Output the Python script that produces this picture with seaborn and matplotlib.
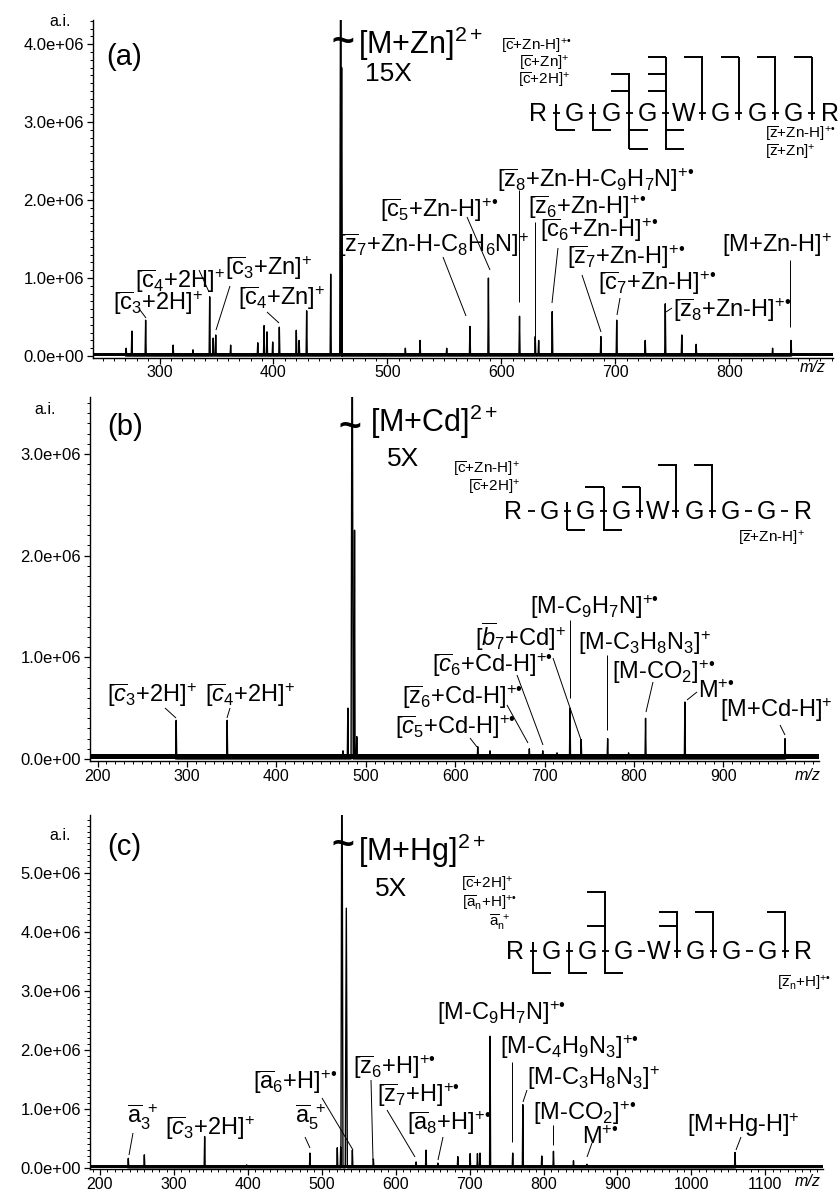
import numpy as np
import pandas as pd
import matplotlib
matplotlib.use('Agg')
import matplotlib.pyplot as plt
import seaborn as sns
from matplotlib.ticker import MultipleLocator, FuncFormatter

# ---------------- data (m/z, intensity in 1e6 a.i.) ----------------
zn_mz = [270.7, 275.7, 287.8, 311.9, 329.3, 344.0, 347.1, 349.3, 362.4, 386.2, 391.7, 394.3,
         399.3, 405.1, 420.0, 422.5, 429.1, 450.2, 459.0, 459.8, 515.7, 528.6, 552.0, 572.4,
         588.6, 615.9, 629.7, 632.7, 644.6, 687.3, 701.2, 726.2, 743.8, 758.3, 770.9, 838.0, 854.2]
zn_int = [0.10, 0.32, 0.46, 0.14, 0.08, 0.76, 0.23, 0.27, 0.14, 0.17, 0.39, 0.31,
          0.18, 0.37, 0.33, 0.20, 0.58, 1.05, 6.00, 3.70, 0.10, 0.20, 0.10, 0.38,
          1.00, 0.51, 0.25, 0.20, 0.57, 0.25, 0.46, 0.20, 0.67, 0.27, 0.15, 0.10, 0.20]

cd_mz = [288, 345, 474.6, 480, 484.8, 487.5, 490, 625.3, 639, 683, 698, 714,
         728.5, 741, 770.6, 794, 813, 857, 969]
cd_int = [0.38, 0.38, 0.08, 0.50, 5.00, 2.25, 0.22, 0.12, 0.08, 0.10, 0.08, 0.06,
          0.50, 0.19, 0.20, 0.06, 0.40, 0.56, 0.20]

hg_mz = [238.3, 260, 341.6, 398.5, 484, 521, 525.6, 527.3, 533.2, 541.4, 569.8,
         627.6, 641, 657, 684, 700.7, 710.6, 714, 727.7, 758.3, 772, 797.6, 813.4,
         840.5, 858.6, 1059]
hg_int = [0.16, 0.22, 0.53, 0.05, 0.25, 0.34, 0.35, 8.00, 4.40, 0.30, 0.15,
          0.10, 0.30, 0.08, 0.19, 0.24, 0.24, 0.25, 2.23, 0.25, 1.07, 0.20, 0.28,
          0.12, 0.06, 0.26]

panel_tags = ['(a)', '(b)', '(c)']
precursors = [r'[M+Zn$]^{2+}$', r'[M+Cd$]^{2+}$', r'[M+Hg$]^{2+}$']
zoom_factors = ['15X', '5X', '5X']

RAD = r'^{+•}'
zn_labels = [r'[$\overline{\mathrm{c}}_3$+2H$]^{+}$', r'[$\overline{\mathrm{c}}_4$+2H$]^{+}$',
             r'[$\overline{\mathrm{c}}_3$+Zn$]^{+}$', r'[$\overline{\mathrm{c}}_4$+Zn$]^{+}$',
             r'[$\overline{\mathrm{c}}_5$+Zn-H$]' + RAD + '$',
             r'[$\overline{\mathrm{z}}_7$+Zn-H-C$_8$H$_6$N$]^{+}$',
             r'[$\overline{\mathrm{z}}_8$+Zn-H-C$_9$H$_7$N$]' + RAD + '$',
             r'[$\overline{\mathrm{z}}_6$+Zn-H$]' + RAD + '$',
             r'[$\overline{\mathrm{c}}_6$+Zn-H$]' + RAD + '$',
             r'[$\overline{\mathrm{z}}_7$+Zn-H$]' + RAD + '$',
             r'[$\overline{\mathrm{c}}_7$+Zn-H$]' + RAD + '$',
             r'[$\overline{\mathrm{z}}_8$+Zn-H$]' + RAD + '$',
             r'[M+Zn-H$]^{+}$']
cd_labels = [r'[$\overline{c}_3$+2H$]^{+}$', r'[$\overline{c}_4$+2H$]^{+}$',
             r'[$\overline{b}_7$+Cd$]^{+}$', r'[$\overline{c}_6$+Cd-H$]' + RAD + '$',
             r'[$\overline{\mathrm{z}}_6$+Cd-H$]' + RAD + '$',
             r'[$\overline{c}_5$+Cd-H$]' + RAD + '$',
             r'[M-C$_9$H$_7$N$]' + RAD + '$', r'[M-C$_3$H$_8$N$_3]^{+}$',
             r'[M-CO$_2]' + RAD + '$', r'$\mathrm{M}' + RAD + '$', r'[M+Cd-H$]^{+}$']
hg_labels = [r'$\overline{\mathrm{a}}_3^{\ +}$', r'[$\overline{c}_3$+2H$]^{+}$',
             r'$\overline{\mathrm{a}}_5^{\ +}$',
             r'[$\overline{\mathrm{a}}_6$+H$]' + RAD + '$',
             r'[$\overline{\mathrm{z}}_6$+H$]' + RAD + '$',
             r'[$\overline{\mathrm{z}}_7$+H$]' + RAD + '$',
             r'[$\overline{\mathrm{a}}_8$+H$]' + RAD + '$',
             r'[M-C$_9$H$_7$N$]' + RAD + '$', r'[M-C$_4$H$_9$N$_3]' + RAD + '$',
             r'[M-C$_3$H$_8$N$_3]^{+}$', r'[M-CO$_2]' + RAD + '$',
             r'$\mathrm{M}' + RAD + '$', r'[M+Hg-H$]^{+}$']

sequence = list('RGGGWGGGR')

# ---------------- style ----------------
sns.set_theme(style='ticks')
plt.rcParams['font.family'] = ['Liberation Sans', 'DejaVu Sans']
plt.rcParams['mathtext.fontset'] = 'custom'
plt.rcParams['mathtext.rm'] = 'Liberation Sans'
plt.rcParams['mathtext.it'] = 'Liberation Sans:italic'
plt.rcParams['mathtext.bf'] = 'Liberation Sans:bold'
plt.rcParams['mathtext.sf'] = 'Liberation Sans'

W, H = 840, 1190
fig = plt.figure(figsize=(W / 100, H / 100), dpi=100)


def px_axes(left, top, right, bottom):
    return fig.add_axes([left / W, 1 - bottom / H, (right - left) / W, (bottom - top) / H])


def spectrum(mz, inten, hw, main_hw, main_thr):
    rows = []
    for m, v in sorted(zip(mz, inten)):
        w = main_hw if v >= main_thr else hw
        rows += [(m - w, 0.0), (m, v * 1e6), (m + w, 0.0)]
    return pd.DataFrame(rows, columns=['mz', 'intensity'])


panels = [
    dict(mz=zn_mz, it=zn_int, box=(93, 20, 833, 357.6), xlim=(241.6, 891), ylim=(-0.02e6, 4.31e6),
         xt=range(300, 900, 100), noise=0.035e6, hw=0.5, main_hw=0.9),
    dict(mz=cd_mz, it=cd_int, box=(90, 397, 819, 761), xlim=(191.6, 1007), ylim=(-0.02e6, 3.56e6),
         xt=range(200, 1000, 100), noise=0.045e6, hw=0.6, main_hw=1.2),
    dict(mz=hg_mz, it=hg_int, box=(90, 815, 823, 1169), xlim=(186.5, 1178), ylim=(-0.02e6, 5.98e6),
         xt=range(200, 1200, 100), noise=0.04e6, hw=0.7, main_hw=1.4),
]

axes = []
for p in panels:
    ax = px_axes(*p['box'])
    df = spectrum(p['mz'], p['it'], p['hw'], p['main_hw'], 4.0)
    ax.axhspan(0, p['noise'], color='black', lw=0, zorder=1)
    sns.lineplot(data=df, x='mz', y='intensity', sort=False, estimator=None,
                 color='black', lw=1.0, ax=ax, zorder=2)
    ax.set_xlim(*p['xlim'])
    ax.set_ylim(*p['ylim'])
    ax.set_xticks(list(p['xt']))
    ax.xaxis.set_minor_locator(MultipleLocator(10))
    ax.yaxis.set_major_locator(MultipleLocator(1e6))
    ax.yaxis.set_minor_locator(MultipleLocator(1e5))
    ax.yaxis.set_major_formatter(FuncFormatter(lambda v, pos: f'{v:.1e}'))
    ax.set_xlabel('')
    ax.set_ylabel('')
    ax.set_facecolor('none')
    sns.despine(ax=ax)
    for s in ('left', 'bottom'):
        ax.spines[s].set_linewidth(1.0)
        ax.spines[s].set_color('black')
    ax.tick_params(axis='both', which='major', direction='out', length=4, width=0.9,
                   labelsize=12, pad=2.5, color='black', labelcolor='black')
    ax.tick_params(axis='x', which='major', labelsize=11.5, pad=1.5)
    ax.tick_params(axis='both', which='minor', direction='out', length=2.2, width=0.7, color='black')
    axes.append(ax)

# ---------------- overlay for annotations ----------------
ov = fig.add_axes([0, 0, 1, 1])
ov.set_xlim(0, W)
ov.set_ylim(H, 0)
ov.axis('off')
ov.patch.set_alpha(0)

LFS = 17
SFS = 11

def txt(x, y, s, fs=LFS, ha='left', **kw):
    ov.text(x, y, s, fontsize=fs, ha=ha, va='center', color='black', **kw)

def line(pts, lw=0.7, color='black'):
    xs, ys = zip(*pts)
    ov.plot(xs, ys, color=color, lw=lw, solid_capstyle='butt')

# common: a.i., m/z, panel tags, precursors
ai_pos = [(60, 21), (45, 410), (60, 835)]
mz_pos = [(813, 368), (808, 775), (808, 1182)]
tag_pos = [(106, 57), (107, 427), (107, 847)]
tilde_pos = [(343, 43), (350, 428), (343, 846)]
prec_pos = [(358, 44), (370, 422), (358, 851)]
zoom_pos = [(365, 74), (387, 459), (375, 889)]
for i in range(3):
    txt(*ai_pos[i], 'a.i.', fs=11.5, ha='center')
    txt(*mz_pos[i], 'm/z', fs=11.5, ha='center', style='italic')
    txt(*tag_pos[i], panel_tags[i], fs=21)
    txt(*tilde_pos[i], '~', fs=28, ha='center', fontweight='bold')
    txt(*prec_pos[i], precursors[i], fs=22)
    txt(*zoom_pos[i], zoom_factors[i], fs=19)

# peak labels
zn_lab_pos = [(113, 303), (135, 281), (225, 268), (238, 298), (380, 210), (338, 245),
              (497, 180), (528, 207), (540, 230), (567, 257), (598, 283), (673, 310), (722, 245)]
cd_lab_pos = [(107, 695), (205, 695), (475, 637), (432, 665), (402, 697), (395, 727),
              (530, 607), (578, 643), (612, 672), (698, 692), (720, 710)]
hg_lab_pos = [(127, 1117), (165, 1128), (295, 1117), (253, 1082), (353, 1067), (377, 1095),
              (407, 1123), (437, 1013), (500, 1047), (527, 1078), (533, 1113), (582, 1138), (687, 1125)]
for labs, poss in ((zn_labels, zn_lab_pos), (cd_labels, cd_lab_pos), (hg_labels, hg_lab_pos)):
    for s, (x, y) in zip(labs, poss):
        txt(x, y, s)

# leader lines
leaders = [
    [(140, 310), (146, 318)], [(199, 270), (209, 292)], [(230, 286), (216, 330)],
    [(267, 312), (279, 323)], [(443, 257), (466, 316)], [(467, 217), (490, 270)],
    [(519, 190), (519, 302)], [(535, 222), (535, 338)], [(558, 248), (552, 303)],
    [(582, 275), (601, 332)], [(620, 298), (617, 315)], [(672, 308), (666, 312)],
    [(790, 260), (790, 327)],
    [(165, 708), (176, 718)], [(230, 708), (227, 718)], [(470, 738), (477, 747)],
    [(507, 705), (528, 743)], [(517, 675), (543, 745)], [(553, 658), (581, 740)],
    [(570, 620), (570, 698)], [(607, 655), (607, 730)], [(653, 682), (646, 712)],
    [(697, 692), (687, 700)], [(780, 725), (785, 735)],
    [(133, 1133), (129, 1155)], [(305, 1137), (310, 1148)], [(322, 1098), (353, 1150)],
    [(371, 1080), (373, 1160)], [(387, 1110), (415, 1157)], [(443, 1137), (438, 1160)],
    [(512, 1062), (512, 1142)], [(527, 1090), (523, 1102)], [(553, 1125), (553, 1145)],
    [(592, 1143), (587, 1157)], [(741, 1137), (736, 1150)],
]
for seg in leaders:
    line(seg, lw=0.7)

# ---------------- sequence diagrams ----------------
def draw_seq(x0, dx, yc, joints, upper, lower):
    for i, ch in enumerate(sequence):
        ov.text(x0 + i * dx, yc + 9, ch, fontsize=18, ha='center', va='baseline', color='black')
    for c, j in enumerate(joints):
        cx = x0 + (c + 0.5) * dx
        line([(cx - 3.5, yc + 1), (cx + 3.5, yc + 1)], lw=1.3)
        if j == 'x':
            top = min(upper.get(c, [yc - 8]) + [yc - 8])
            bot = max(lower.get(c, [yc + 8]) + [yc + 8])
            line([(cx, top), (cx, bot)], lw=1.4)
            for lv in upper.get(c, []):
                line([(cx - dx * 0.5, lv), (cx + 0.7, lv)], lw=1.4)
            for lv in lower.get(c, []):
                line([(cx - 0.7, lv), (cx + dx * 0.5, lv)], lw=1.4)

draw_seq(538, 36.5, 112, 'xxxxxxxx',
         {2: [74, 91], 3: [57, 74, 91], 4: [57], 5: [57], 6: [57], 7: [57]},
         {0: [130], 1: [130], 2: [130, 149], 3: [130, 149]})
draw_seq(513, 36.2, 510, '-xxxxx--',
         {2: [487], 3: [487], 4: [465], 5: [465]},
         {1: [530], 2: [530]})
draw_seq(515, 36.0, 950, 'xxx-xx-x',
         {2: [892, 926], 4: [912, 926], 5: [912], 7: [912]},
         {0: [973], 1: [973], 2: [973]})

small = [
    (572, 46, r'[$\overline{\mathrm{c}}$+Zn-H$]' + RAD + '$', 'right'),
    (570, 63, r'[$\overline{\mathrm{c}}$+Zn$]^{+}$', 'right'),
    (570, 80, r'[$\overline{\mathrm{c}}$+2H$]^{+}$', 'right'),
    (765, 134, r'[$\overline{\mathrm{z}}$+Zn-H$]' + RAD + '$', 'left'),
    (765, 152, r'[$\overline{\mathrm{z}}$+Zn$]^{+}$', 'left'),
    (520, 469, r'[$\overline{\mathrm{c}}$+Zn-H$]^{+}$', 'right'),
    (520, 487, r'[$\overline{\mathrm{c}}$+2H$]^{+}$', 'right'),
    (738, 538, r'[$\overline{\mathrm{z}}$+Zn-H$]^{+}$', 'left'),
    (513, 884, r'[$\overline{\mathrm{c}}$+2H$]^{+}$', 'right'),
    (517, 903, r'[$\overline{\mathrm{a}}_\mathrm{n}$+H$]' + RAD + '$', 'right'),
    (510, 922, r'$\overline{\mathrm{a}}_\mathrm{n}^{\ +}$', 'right'),
    (777, 983, r'[$\overline{\mathrm{z}}_\mathrm{n}$+H$]' + RAD + '$', 'left'),
]
for x, y, s, ha in small:
    txt(x, y, s, fs=SFS, ha=ha)

fig.savefig('out.png', dpi=100)
